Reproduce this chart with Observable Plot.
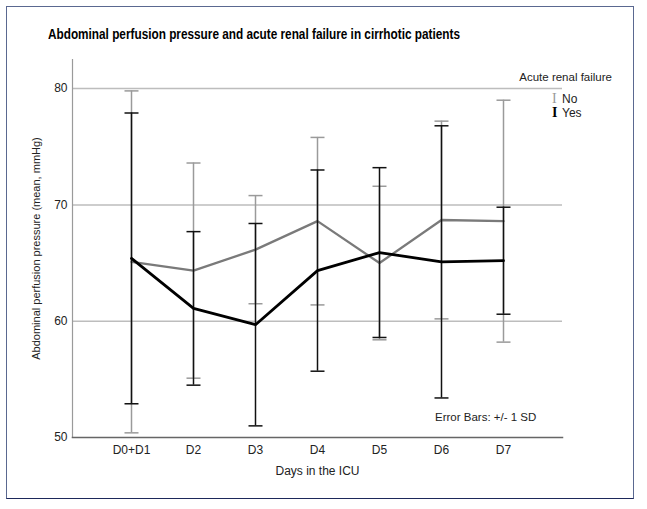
<!DOCTYPE html>
<html><head><meta charset="utf-8">
<script src="https://cdn.jsdelivr.net/npm/d3@7"></script>
<script src="https://cdn.jsdelivr.net/npm/@observablehq/plot@0.6"></script>
<style>
body{margin:0;background:#fff;}
#wrap{position:relative;width:647px;height:509px;font-family:"Liberation Sans",Arial,sans-serif;color:#222;}
#chart{position:absolute;left:0;top:0;}
#frame{position:absolute;left:6px;top:6px;width:626px;height:491px;border:1.5px solid #5a6890;border-bottom-color:#1d285a;pointer-events:none;}
#title{position:absolute;left:48px;top:25px;font-family:"Liberation Sans",Arial,sans-serif;font-weight:bold;font-size:15px;line-height:18px;color:#000;white-space:nowrap;transform-origin:0 50%;}
#legTitle{position:absolute;right:35px;top:70px;font-size:11.5px;line-height:14px;white-space:nowrap;}
.leg{position:absolute;left:552px;font-size:12px;line-height:14px;white-space:nowrap;}
.leg .sym{font-family:"Liberation Serif","DejaVu Serif",serif;display:inline-block;width:10px;font-size:14px;}
#caption{position:absolute;left:435px;top:410px;font-size:11.5px;line-height:14px;white-space:nowrap;}
g[aria-label="y-axis label"] text{font-size:11px;}
</style></head>
<body>
<div id="wrap">
  <div id="chart"></div>
  <div id="title">Abdominal perfusion pressure and acute renal failure in cirrhotic patients</div>
  <div id="legTitle">Acute renal failure</div>
  <div class="leg" style="top:92px"><span class="sym" style="color:#9a9a9a">I</span>No</div>
  <div class="leg" style="top:106px"><span class="sym" style="color:#000;font-weight:bold">I</span>Yes</div>
  <div id="caption">Error Bars: +/- 1 SD</div>
  <div id="frame"></div>
</div>
<script>
const days = ["D0+D1", "D2", "D3", "D4", "D5", "D6", "D7"];
const noMean = [65.1, 64.35, 66.15, 68.6, 65.0, 68.7, 68.6];
const noSD = [14.7, 9.25, 4.65, 7.2, 6.6, 8.5, 10.4];
const yesMean = [65.4, 61.1, 59.7, 64.35, 65.9, 65.1, 65.2];
const yesSD = [12.5, 6.6, 8.7, 8.65, 7.3, 11.7, 4.6];
const yTicks = [50, 60, 70, 80];

const noRows = days.map((d, i) => ({day: d, mean: noMean[i], lo: noMean[i] - noSD[i], hi: noMean[i] + noSD[i]}));
const yesRows = days.map((d, i) => ({day: d, mean: yesMean[i], lo: yesMean[i] - yesSD[i], hi: yesMean[i] + yesSD[i]}));

const cap = {draw(ctx, size) { const w = Math.sqrt(size / Math.PI); ctx.moveTo(-w, 0); ctx.lineTo(w, 0); }};

function bars(rows, color) {
  return [
    Plot.ruleX(rows, {x: "day", y1: "lo", y2: "hi", stroke: color, strokeWidth: 1.5}),
    Plot.dot(rows, {x: "day", y: "lo", symbol: cap, r: 7, stroke: color, fill: "none", strokeWidth: 1.5}),
    Plot.dot(rows, {x: "day", y: "hi", symbol: cap, r: 7, stroke: color, fill: "none", strokeWidth: 1.5})
  ];
}

const plot = Plot.plot({
  width: 647, height: 509,
  marginLeft: 72, marginRight: 85, marginTop: 59, marginBottom: 72,
  style: {fontFamily: "'Liberation Sans', Arial, sans-serif", fontSize: "12px", color: "#222", background: "transparent"},
  x: {type: "point", domain: days, padding: 0.9, label: "Days in the ICU", labelAnchor: "center", labelArrow: "none", tickSize: 0, tickPadding: 8, labelOffset: 37},
  y: {domain: [50, 82.5], ticks: yTicks, label: "Abdominal perfusion pressure (mean, mmHg)", labelAnchor: "center", labelArrow: "none", tickSize: 0, tickPadding: 5, labelOffset: 40},
  marks: [
    Plot.gridY(yTicks.filter(t => t > 50), {stroke: "#bdbdbd", strokeOpacity: 1, strokeWidth: 1.5}),
    Plot.frame({anchor: "left", stroke: "#9a9a9a", strokeWidth: 1.2}),
    Plot.frame({anchor: "bottom", stroke: "#666", strokeWidth: 1.5}),
    ...bars(noRows, "#9a9a9a"),
    Plot.line(noRows, {x: "day", y: "mean", stroke: "#7a7a7a", strokeWidth: 2.3}),
    ...bars(yesRows, "#111"),
    Plot.line(yesRows, {x: "day", y: "mean", stroke: "#000", strokeWidth: 2.8})
  ]
});
document.getElementById("chart").appendChild(plot);

const title = document.getElementById("title");
const tw = title.getBoundingClientRect().width;
title.style.transform = `scaleX(${412 / tw})`;
</script>
</body></html>
